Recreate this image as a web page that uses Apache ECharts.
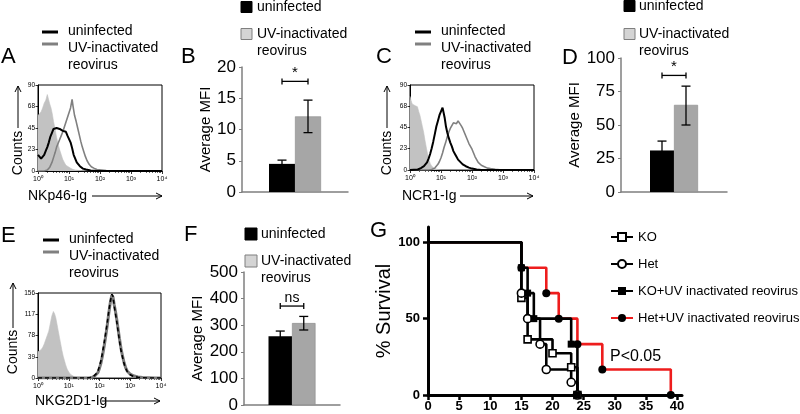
<!DOCTYPE html>
<html><head><meta charset="utf-8">
<script src="https://cdn.jsdelivr.net/npm/echarts@6/dist/echarts.min.js"></script>
<style>html,body{margin:0;padding:0;background:#fff}#c{width:800px;height:414px}</style>
</head><body><div id="c"></div>
<script>
const FONT = 'Liberation Sans, Arial, sans-serif';

// ---------- Histograms: [log10(fluorescence), counts] ----------
const histA_isotype = [[0,58],[0.05,56],[0.1,62],[0.15,66],[0.2,71],[0.25,74],[0.3,80],[0.34,78],[0.38,70],[0.42,66],[0.46,60],[0.5,52],[0.55,44],[0.6,35],[0.65,28],[0.7,22],[0.75,17],[0.8,12],[0.85,9],[0.9,6],[1.0,4],[1.1,2],[1.2,1],[1.35,0.5],[1.5,0],[4,0]];
const histA_uninfected = [[0,17],[0.05,15],[0.1,13],[0.15,14],[0.2,17],[0.25,21],[0.3,25],[0.35,30],[0.4,36],[0.45,40],[0.5,44],[0.55,46],[0.6,45],[0.65,47],[0.7,44],[0.75,43],[0.8,42],[0.85,40],[0.9,41],[0.95,37],[1.0,35],[1.05,30],[1.1,24],[1.15,17],[1.2,13],[1.25,9],[1.3,7],[1.35,5],[1.45,2.5],[1.55,1.5],[1.7,0.5],[1.9,0],[4,0]];
const histA_uv = [[0,0],[0.2,0],[0.3,1],[0.38,4],[0.45,9],[0.5,14],[0.55,19],[0.6,25],[0.65,29],[0.7,33],[0.75,37],[0.8,41],[0.85,46],[0.9,51],[0.95,56],[1.0,61],[1.05,66],[1.1,75],[1.13,68],[1.18,58],[1.23,52],[1.28,45],[1.33,38],[1.38,31],[1.43,25],[1.48,20],[1.53,15],[1.58,11],[1.65,7],[1.72,4.5],[1.8,3],[1.9,1.5],[2.05,1],[2.2,0.5],[2.4,0],[4,0]];

const histC_isotype = [[0,78],[0.03,74],[0.07,70],[0.1,68],[0.13,70],[0.17,68],[0.2,70],[0.24,67],[0.28,62],[0.32,58],[0.36,52],[0.4,46],[0.44,40],[0.48,32],[0.52,25],[0.56,18],[0.6,12],[0.65,7],[0.7,4],[0.8,1.5],[0.9,0.5],[1.0,0],[4,0]];
const histC_uninfected = [[0,0],[0.25,0.5],[0.35,2],[0.45,4],[0.5,6],[0.55,8],[0.6,12],[0.65,17],[0.7,23],[0.75,30],[0.8,38],[0.85,46],[0.9,52],[0.95,58],[1.0,62],[1.05,66],[1.08,65],[1.12,55],[1.16,46],[1.2,40],[1.25,34],[1.3,29],[1.35,25],[1.4,20],[1.45,17],[1.5,14],[1.55,11],[1.6,9],[1.7,6],[1.8,4],[1.9,2.5],[2.0,1.5],[2.15,0.5],[2.3,0],[4,0]];
const histC_uv = [[0,0],[0.6,0],[0.7,0.5],[0.8,2],[0.9,6],[0.95,9],[1.0,13],[1.05,18],[1.1,24],[1.15,29],[1.2,35],[1.25,40],[1.3,44],[1.35,47],[1.4,50],[1.45,51],[1.5,49],[1.55,52],[1.6,50],[1.65,47],[1.7,44],[1.75,40],[1.8,36],[1.85,32],[1.9,28],[1.95,25],[2.0,22],[2.05,18],[2.1,14],[2.15,11],[2.2,8],[2.3,5],[2.4,3.5],[2.5,2],[2.6,1.5],[2.75,0.8],[2.9,0.3],[3.1,0],[4,0]];

const histE_isotype = [[0,48],[0.05,50],[0.1,52],[0.15,56],[0.2,62],[0.25,70],[0.3,78],[0.35,86],[0.4,100],[0.45,114],[0.5,122],[0.54,118],[0.58,110],[0.62,98],[0.66,86],[0.7,74],[0.74,62],[0.78,50],[0.82,40],[0.86,32],[0.9,24],[0.95,16],[1.0,11],[1.05,7],[1.1,4],[1.2,1.5],[1.3,0.5],[1.4,0],[4,0]];
const histE_uninfected = [[0,0],[1.6,0],[1.7,1],[1.8,3],[1.9,8],[1.95,13],[2.0,22],[2.05,32],[2.1,48],[2.15,64],[2.2,82],[2.25,100],[2.3,122],[2.35,140],[2.4,154],[2.44,150],[2.48,132],[2.52,118],[2.56,104],[2.6,88],[2.65,68],[2.7,50],[2.75,38],[2.8,26],[2.85,18],[2.9,12],[3.0,6],[3.1,3],[3.25,1.5],[3.4,0.5],[3.6,0],[4,0]];
const histE_uv = [[0,0],[1.65,0],[1.75,1],[1.85,4],[1.95,10],[2.0,18],[2.05,28],[2.1,42],[2.15,58],[2.2,76],[2.25,96],[2.3,118],[2.35,138],[2.4,152],[2.44,148],[2.48,134],[2.52,122],[2.56,108],[2.6,92],[2.65,72],[2.7,54],[2.75,40],[2.8,28],[2.85,19],[2.9,13],[3.0,7],[3.1,4],[3.25,2],[3.4,1],[3.6,0.5],[3.8,0],[4,0]];

const histXTicks = [0, 1, 2, 3, 4];
const histXLabels = ['10\u2070', '10\u00b9', '10\u00b2', '10\u00b3', '10\u2074'];
const histYTicksAC = [0, 23, 45, 68, 90];
const histYTicksE = [0, 39, 78, 117, 156];

// ---------- Bar charts (Average MFI) ----------
const barGroups = ['uninfected', 'UV-inactivated reovirus'];
const mfiB = [4.5, 12.1], mfiB_lo = [3.9, 9.5], mfiB_hi = [5.1, 14.7];
const mfiD = [31, 65], mfiD_lo = [24, 50], mfiD_hi = [38, 79];
const mfiF = [258, 308], mfiF_lo = [238, 282], mfiF_hi = [278, 333];
const sigLevel = [17.7, 87, 372];
const sigText = ['*', '*', 'ns'];
const yTicksB = [0, 5, 10, 15, 20];
const yTicksD = [0, 25, 50, 75, 100];
const yTicksF = [0, 100, 200, 300, 400, 500];

// ---------- Survival (days, % survival) ----------
const survKO = [[0,100],[15,63.6],[16,36.4],[20,27.3],[23,18.2],[24,0]];
const survHet = [[0,100],[15,66.7],[16,50],[18,33.3],[19,16.7],[23,8.3],[24,0]];
const survKOUV = [[0,100],[15,83.3],[16,66.7],[17,50],[23,33.3],[24,0]];
const survHetUV = [[0,100],[15,83.3],[19,66.7],[21,50],[24,33.3],[28,16.7],[39,0]];
const survXTicks = [0, 5, 10, 15, 20, 25, 30, 35, 40];
const survYTicks = [0, 50, 100];

// ================= build =================
const grids = [], xAxes = [], yAxes = [], series = [];
const minorTicks = [];
for (let d = 0; d < 4; d++) for (let m = 2; m <= 9; m++) minorTicks.push(d + Math.log10(m));

function addHist(left, top, width, height, yTicks, ymax, iso, uninf, uv, dashedUninf) {
  const gi = grids.length;
  grids.push({left, top, width, height, show: true, borderColor: '#000', borderWidth: 1, backgroundColor: 'transparent'});
  const xi = xAxes.length;
  xAxes.push({gridIndex: gi, type: 'value', min: 0, max: 4, position: 'bottom',
    axisLine: {show: true, lineStyle: {color: '#000', width: 1}},
    axisTick: {show: true, customValues: histXTicks, length: 3, lineStyle: {color: '#000', width: 0.8}},
    axisLabel: {customValues: histXTicks, formatter: v => histXLabels[histXTicks.indexOf(v)], fontSize: 7, color: '#000', margin: 5, fontFamily: FONT},
    splitLine: {show: false}});
  xAxes.push({gridIndex: gi, type: 'value', min: 0, max: 4, position: 'bottom',
    axisLine: {show: false}, axisLabel: {show: false}, splitLine: {show: false},
    axisTick: {show: true, customValues: minorTicks, length: 2, lineStyle: {color: '#000', width: 0.6}}});
  const yi = yAxes.length;
  yAxes.push({gridIndex: gi, type: 'value', min: 0, max: ymax,
    axisLine: {show: true, lineStyle: {color: '#000', width: 1}},
    axisTick: {show: true, customValues: yTicks, length: 2.5, lineStyle: {color: '#000', width: 0.8}},
    axisLabel: {customValues: yTicks, fontSize: 6.5, color: '#000', margin: 3, fontFamily: FONT},
    splitLine: {show: false}});
  series.push({type: 'line', xAxisIndex: xi, yAxisIndex: yi, data: iso, symbol: 'none', silent: true,
    lineStyle: {color: '#c2c2c2', width: 0.6}, areaStyle: {color: '#c2c2c2', opacity: 1}, z: 1});
  if (dashedUninf) {
    series.push({type: 'line', xAxisIndex: xi, yAxisIndex: yi, data: uv, symbol: 'none', silent: true,
      lineStyle: {color: '#7a7a7a', width: 3}, z: 2});
    series.push({type: 'line', xAxisIndex: xi, yAxisIndex: yi, data: uninf, symbol: 'none', silent: true,
      lineStyle: {color: '#000', width: 1.6, type: [4, 3]}, z: 3});
  } else {
    series.push({type: 'line', xAxisIndex: xi, yAxisIndex: yi, data: uv, symbol: 'none', silent: true,
      lineStyle: {color: '#808080', width: 1.6}, z: 2});
    series.push({type: 'line', xAxisIndex: xi, yAxisIndex: yi, data: uninf, symbol: 'none', silent: true,
      lineStyle: {color: '#000', width: 2}, z: 3});
  }
}

function addBars(left, top, width, height, yTicks, means, lo, hi, bw, sigIdx, labelSize, nameGap) {
  const gi = grids.length;
  grids.push({left, top, width, height});
  const xi = xAxes.length;
  xAxes.push({gridIndex: gi, type: 'category', data: ['MFI'],
    axisLine: {show: true, lineStyle: {color: '#7f7f7f', width: 1.5}},
    axisTick: {show: false}, axisLabel: {show: false}, splitLine: {show: false}});
  const yi = yAxes.length;
  yAxes.push({gridIndex: gi, type: 'value', min: yTicks[0], max: yTicks[yTicks.length - 1],
    interval: yTicks[1] - yTicks[0],
    name: 'Average MFI', nameLocation: 'middle', nameGap: nameGap,
    nameTextStyle: {fontSize: 15, color: '#000', fontFamily: FONT},
    axisLine: {show: true, lineStyle: {color: '#7f7f7f', width: 1.5}},
    axisTick: {show: true, length: 3, lineStyle: {color: '#7f7f7f', width: 1}},
    axisLabel: {fontSize: labelSize, color: '#000', margin: 6, fontFamily: FONT},
    splitLine: {show: false}});
  series.push({type: 'bar', name: barGroups[0], xAxisIndex: xi, yAxisIndex: yi, data: [means[0]],
    barWidth: bw, barGap: '0%', itemStyle: {color: '#000'}, silent: true});
  series.push({type: 'bar', name: barGroups[1], xAxisIndex: xi, yAxisIndex: yi, data: [means[1]],
    barWidth: bw, barGap: '0%', itemStyle: {color: '#a6a6a6', borderColor: '#8a8a8a', borderWidth: 0.6}, silent: true});
  const st = {stroke: '#000', lineWidth: 1.3};
  series.push({type: 'custom', xAxisIndex: xi, yAxisIndex: yi, z: 5, silent: true,
    data: lo.map((v, i) => [0, v, hi[i]]), encode: {x: 0, y: [1, 2]},
    renderItem: (params, api) => {
      const a = api.coord([api.value(0), api.value(1)]);
      const b = api.coord([api.value(0), api.value(2)]);
      const x = a[0] + (params.dataIndex === 0 ? -bw / 2 : bw / 2);
      const c = 4.5;
      return {type: 'group', children: [
        {type: 'line', shape: {x1: x, y1: a[1], x2: x, y2: b[1]}, style: st},
        {type: 'line', shape: {x1: x - c, y1: b[1], x2: x + c, y2: b[1]}, style: st},
        {type: 'line', shape: {x1: x - c, y1: a[1], x2: x + c, y2: a[1]}, style: st}]};
    }});
  series.push({type: 'custom', xAxisIndex: xi, yAxisIndex: yi, z: 5, silent: true,
    data: [[0, sigLevel[sigIdx]]], encode: {x: 0, y: 1},
    renderItem: (params, api) => {
      const p = api.coord([api.value(0), api.value(1)]);
      const h = bw / 2;
      return {type: 'group', children: [
        {type: 'line', shape: {x1: p[0] - h, y1: p[1], x2: p[0] + h, y2: p[1]}, style: st},
        {type: 'line', shape: {x1: p[0] - h, y1: p[1] - 3, x2: p[0] - h, y2: p[1] + 3}, style: st},
        {type: 'line', shape: {x1: p[0] + h, y1: p[1] - 3, x2: p[0] + h, y2: p[1] + 3}, style: st},
        {type: 'text', x: p[0], y: p[1] - 1, style: {text: sigText[sigIdx], fill: '#000',
          fontSize: sigText[sigIdx] === '*' ? 15 : 14, fontFamily: FONT, align: 'center', verticalAlign: 'bottom'}}]};
    }});
}

// Panel A, B, C, D, E, F
addHist(38, 85, 124, 86, histYTicksAC, 90, histA_isotype, histA_uninfected, histA_uv, false);
addBars(242, 67, 106, 125, yTicksB, mfiB, mfiB_lo, mfiB_hi, 26, 0, 17, 29);
addHist(410, 85, 124, 85, histYTicksAC, 90, histC_isotype, histC_uninfected, histC_uv, false);
addBars(621, 58, 106, 134, yTicksD, mfiD, mfiD_lo, mfiD_hi, 24, 1, 17, 38);
addHist(38, 293, 123, 85, histYTicksE, 156, histE_isotype, histE_uninfected, histE_uv, true);
addBars(244, 272, 96, 133, yTicksF, mfiF, mfiF_lo, mfiF_hi, 23.5, 2, 17, 36);

// Panel G: survival
const gG = grids.length;
grids.push({left: 428, top: 227, width: 254, height: 168});
const xG = xAxes.length;
xAxes.push({gridIndex: gG, type: 'value', min: 0, max: 40.8,
  axisLine: {show: true, lineStyle: {color: '#000', width: 3}},
  axisTick: {show: true, customValues: survXTicks, length: 5, lineStyle: {color: '#000', width: 2.5}},
  axisLabel: {customValues: survXTicks, fontSize: 13, fontWeight: 'bold', color: '#000', margin: 5, fontFamily: FONT},
  splitLine: {show: false}});
const yG = yAxes.length;
yAxes.push({gridIndex: gG, type: 'value', min: 0, max: 110,
  name: '% Survival', nameLocation: 'middle', nameGap: 26,
  nameTextStyle: {fontSize: 20, color: '#000', fontFamily: FONT},
  axisLine: {show: true, lineStyle: {color: '#000', width: 3}},
  axisTick: {show: true, customValues: survYTicks, length: 5, lineStyle: {color: '#000', width: 2.5}},
  axisLabel: {customValues: survYTicks, fontSize: 13, fontWeight: 'bold', color: '#000', margin: 8, fontFamily: FONT},
  splitLine: {show: false}});
function survData(arr) { return arr.map((p, i) => i === 0 ? {value: p, symbol: 'none'} : p); }
function survSeries(name, arr, symbol, fill, lineColor, size) {
  return {type: 'line', name, step: 'end', xAxisIndex: xG, yAxisIndex: yG, data: survData(arr),
    symbol, symbolSize: size, showSymbol: true, showAllSymbol: true, silent: true,
    lineStyle: {color: lineColor, width: 2.6},
    itemStyle: {color: fill, borderColor: '#000', borderWidth: fill === '#fff' ? 1.6 : 0}};
}
series.push(survSeries('Het+UV inactivated reovirus', survHetUV, 'circle', '#000', '#ee1d1d', 8));
series.push(survSeries('KO', survKO, 'rect', '#fff', '#000', 7));
series.push(survSeries('Het', survHet, 'circle', '#fff', '#000', 8));
series.push(survSeries('KO+UV inactivated reovirus', survKOUV, 'rect', '#000', '#000', 7));

// ---------- decorations (text) ----------
const els = [];
function txt(text, x, y, size, opts) {
  opts = opts || {};
  els.push({type: 'text', x, y, rotation: opts.rot || 0, silent: true,
    style: {text, fill: '#000', fontSize: size, fontFamily: FONT, fontWeight: opts.weight || 'normal',
      align: opts.align || 'left', verticalAlign: 'middle'}});
}
function seg(x1, y1, x2, y2, color, w) {
  els.push({type: 'line', silent: true, shape: {x1, y1, x2, y2}, style: {stroke: color, lineWidth: w}});
}
function poly(points, w) {
  els.push({type: 'polyline', silent: true, shape: {points}, style: {stroke: '#000', lineWidth: w, fill: null}});
}
function box(x, y, w, h, fill, stroke) {
  els.push({type: 'rect', silent: true, shape: {x, y, width: w, height: h}, style: {fill, stroke, lineWidth: 1}});
}
// panel letters
[['A', 1, 57], ['B', 181, 57], ['C', 376, 57], ['D', 562, 58], ['E', 1, 236], ['F', 184, 235], ['G', 370, 231]]
  .forEach(l => txt(l[0], l[1], l[2], 22));
// histogram legends
function lineLegend(x, y) {
  seg(x, y, x + 16, y, '#000', 3);
  seg(x, y + 12, x + 16, y + 12, '#808080', 3);
  txt('uninfected', x + 26, y - 0.5, 14);
  txt('UV-inactivated', x + 26, y + 16.5, 14);
  txt('reovirus', x + 26, y + 33, 14);
}
lineLegend(42, 32); lineLegend(415, 32); lineLegend(43, 240);
// bar legends
function barLegend(x, y1, y2, sq, tx) {
  box(x, y1 - sq / 2, sq, sq, '#000', '#000');
  box(x, y2 - sq / 2, sq, sq, '#d4d4d4', '#7f7f7f');
  txt('uninfected', tx, y1, 14);
  txt('UV-inactivated', tx, y2, 14);
  txt('reovirus', tx, y2 + 17.5, 14);
}
barLegend(241, 7, 34, 11, 257);
barLegend(624, 6, 34, 11, 639);
barLegend(245, 234, 261, 12, 261);
// histogram axis titles with arrows
function histTitles(cx, cyCounts, ay1, ay2, title, tx, ty, ax1, ax2) {
  txt('Counts', cx, cyCounts, 14, {rot: Math.PI / 2, align: 'center'});
  seg(cx, ay1, cx, ay2, '#000', 1);
  poly([[cx - 3, ay2 + 6], [cx, ay2], [cx + 3, ay2 + 6]], 1);
  txt(title, tx, ty, 14);
  seg(ax1, ty, ax2, ty, '#000', 1);
  poly([[ax2 - 6, ty - 3], [ax2, ty], [ax2 - 6, ty + 3]], 1);
}
histTitles(18, 153, 128, 86, 'NKp46-Ig', 28, 196, 92, 162);
histTitles(387, 153, 128, 86, 'NCR1-Ig', 402, 196, 460, 533);
histTitles(13, 352, 328, 283, 'NKG2D1-Ig', 35, 401, 102, 160);
// P value
txt('P<0.05', 610, 357, 16);

const option = {
  animation: false,
  backgroundColor: '#fff',
  textStyle: {fontFamily: FONT},
  grid: grids,
  xAxis: xAxes,
  yAxis: yAxes,
  legend: {left: 610, top: 229, orient: 'vertical', itemWidth: 22, itemHeight: 10, itemGap: 11,
    padding: 0, selectedMode: false,
    data: ['KO', 'Het', 'KO+UV inactivated reovirus', 'Het+UV inactivated reovirus'],
    textStyle: {fontSize: 13, color: '#000', lineHeight: 16, fontFamily: FONT}},
  series,
  graphic: {elements: els}
};
const chart = echarts.init(document.getElementById('c'), null, {renderer: 'canvas'});
chart.setOption(option);
</script></body></html>
